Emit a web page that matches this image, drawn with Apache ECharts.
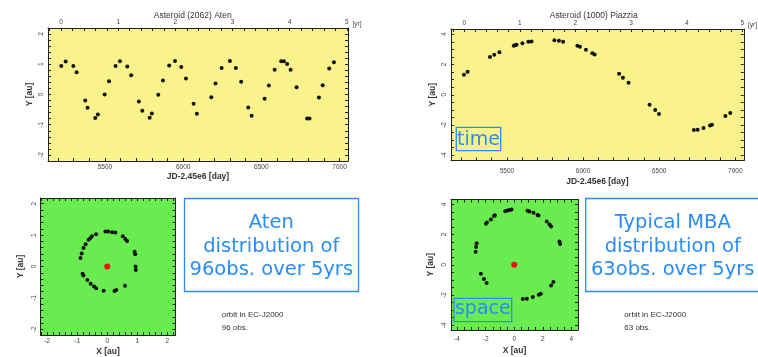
<!DOCTYPE html>
<html>
<head>
<meta charset="utf-8">
<script src="https://cdn.jsdelivr.net/npm/echarts@6/dist/echarts.min.js"></script>
<style>
html,body{margin:0;padding:0;background:#fff;}
#c{width:758px;height:357px;}
</style>
</head>
<body>
<div id="c"></div>
<script>
// ---------- data ----------
// Aten: Y [au] vs time (JD-2.45e6)
const atenJD = [5221,5249,5298,5319,5374,5389,5438,5455,5498,5526,5568,5596,5643,5668,5717,5739,5786,5800,5841,5871,5911,5948,5988,6018,6067,6088,6180,6207,6246,6299,6337,6371,6416,6438,6521,6548,6585,6627,6644,6665,6687,6725,6793,6808,6868,6892,6934,6964];
const atenTY  = [0.94,1.09,0.94,0.74,-0.20,-0.44,-0.78,-0.66,0.00,0.44,0.94,1.10,0.93,0.64,-0.23,-0.54,-0.77,-0.63,-0.01,0.46,0.96,1.11,0.91,0.53,-0.31,-0.64,-0.09,0.36,0.88,1.11,0.88,0.42,-0.43,-0.70,-0.14,0.30,0.82,1.10,1.10,1.01,0.82,0.24,-0.79,-0.79,-0.10,0.31,0.86,1.07];
// Piazzia: Y [au] vs time
const piazJD = [5218,5242,5389,5417,5451,5545,5553,5564,5602,5641,5662,5812,5842,5869,5963,5980,6019,6061,6076,6237,6262,6299,6437,6474,6499,6728,6753,6791,6834,6847,6935,6967];
const piazTY  = [1.32,1.52,2.49,2.64,2.82,3.24,3.28,3.30,3.41,3.50,3.52,3.61,3.57,3.50,3.24,3.17,2.97,2.75,2.67,1.39,1.12,0.79,-0.66,-1.01,-1.28,-2.33,-2.31,-2.20,-2.03,-1.98,-1.41,-1.21];
// Aten: X/Y in EC-J2000 [au]
const atenX = [-0.06,0.03,0.16,0.27,0.52,0.60,0.66,0.91,0.93,0.94,0.95,0.59,0.30,0.24,-0.12,-0.37,-0.44,-0.55,-0.66,-0.79,-0.82,-0.89,-0.85,-0.79,-0.72,-0.62,-0.57,-0.51,-0.37];
const atenY = [1.11,1.11,1.09,1.08,0.96,0.875,0.81,0.47,0.39,0.00,-0.11,-0.61,-0.75,-0.78,-0.77,-0.69,-0.64,-0.55,-0.43,-0.29,-0.23,0.27,0.41,0.59,0.71,0.85,0.90,0.96,1.03];
// Typical MBA (Piazzia): X/Y in EC-J2000 [au]
const mbaX = [-0.63,-0.47,-0.33,-0.19,0.93,1.07,1.35,1.63,1.70,2.28,2.47,2.58,3.16,3.21,2.74,2.58,1.86,1.72,1.30,0.88,0.60,-1.93,-2.12,-2.33,-2.70,-2.67,-2.63,-1.98,-1.91,-1.63,-1.42,-1.35];
const mbaY = [3.55,3.59,3.63,3.66,3.57,3.52,3.44,3.30,3.26,2.86,2.67,2.53,1.54,1.37,-1.15,-1.37,-1.92,-1.98,-2.14,-2.25,-2.27,-1.21,-0.95,-0.59,0.86,1.17,1.43,2.71,2.80,3.00,3.22,3.28];
const sunXY = [[0, 0]];
// tick labels
const jdLabels = [5500, 6000, 6500, 7000];
const yearJD = [5220, 5585, 5950, 6316, 6681, 7046];
const yearLabels = ['0', '1', '2', '3', '4', '5'];
const atenTimeYLabels = [-2, -1, 0, 1, 2];
const piazTimeYLabels = [-4, -2, 0, 2, 4];
const atenXYLabels = [-2, -1, 0, 1, 2];
const mbaXYLabels = [-4, -2, 0, 2, 4];

// ---------- helpers ----------
function zip(a, b) { return a.map((v, i) => [v, b[i]]); }
function steps(a, b, s) { const r = []; for (let v = a; v <= b + 1e-9; v += s) r.push(Math.round(v * 1000) / 1000); return r; }
const FONT = 'Liberation Sans';
const INK = '#222';
const plain = v => String(v);
function axis(gi, pos, min, max, ticks, labels, lab, extra) {
  return Object.assign({
    type: 'value', gridIndex: gi, position: pos, min: min, max: max, scale: true,
    axisLine: { show: true, onZero: false, lineStyle: { color: INK, width: 1 } },
    axisTick: { show: true, inside: true, length: 3, customValues: ticks, lineStyle: { color: INK, width: 1 } },
    axisLabel: Object.assign({ show: !!labels, customValues: labels || [], formatter: plain, fontFamily: FONT, fontSize: 6.5, color: '#444', margin: 3 }, lab || {}),
    splitLine: { show: false }, minorTick: { show: false }
  }, extra || {});
}
const nameStyle = { fontFamily: FONT, fontWeight: 'bold', fontSize: 8.5, color: '#333' };

const jdMinL = 5136, jdMaxL = 7054, jdMinR = 5133, jdMaxR = 7056;
const yearTicksL = steps(5220 - 73.05, 7054, 73.05).filter(v => v >= jdMinL);
const yearTicksR = steps(5220 - 73.05, 7056, 73.05).filter(v => v >= jdMinR);
const yearFmt = v => { const i = yearJD.indexOf(v); return i < 0 ? '' : yearLabels[i]; };

const xAxes = [
  axis(0, 'bottom', jdMinL, jdMaxL, steps(5200, 7000, 100), jdLabels, { margin: 3 },
    { name: 'JD-2.45e6 [day]', nameLocation: 'middle', nameGap: 10, nameTextStyle: nameStyle }),
  axis(0, 'top', jdMinL, jdMaxL, yearTicksL, yearJD, { formatter: yearFmt, margin: 2 },
    { name: '[yr]', nameLocation: 'end', nameGap: 3, nameTextStyle: { fontFamily: FONT, fontSize: 6.5, color: '#444', verticalAlign: 'bottom' } }),
  axis(1, 'bottom', jdMinR, jdMaxR, steps(5200, 7000, 100), jdLabels, { margin: 7 },
    { name: 'JD-2.45e6 [day]', nameLocation: 'middle', nameGap: 17, nameTextStyle: nameStyle }),
  axis(1, 'top', jdMinR, jdMaxR, yearTicksR, yearJD, { formatter: yearFmt, margin: 2 },
    { name: '[yr]', nameLocation: 'end', nameGap: 3, nameTextStyle: { fontFamily: FONT, fontSize: 6.5, color: '#444', verticalAlign: 'bottom' } }),
  axis(2, 'bottom', -2.22, 2.27, steps(-2.2, 2.2, 0.2), atenXYLabels, { margin: 3 },
    { name: 'X [au]', nameLocation: 'middle', nameGap: 12, nameTextStyle: nameStyle }),
  axis(2, 'top', -2.22, 2.27, steps(-2.2, 2.2, 0.2), null),
  axis(3, 'bottom', -4.42, 4.46, steps(-4, 4, 0.5), mbaXYLabels, { margin: 6 },
    { name: 'X [au]', nameLocation: 'middle', nameGap: 16, nameTextStyle: nameStyle }),
  axis(3, 'top', -4.42, 4.46, steps(-4, 4, 0.5), null)
];
const yLab = { rotate: 90, margin: 3 };
const yAxes = [
  axis(0, 'left', -2.2, 2.2, steps(-2.2, 2.2, 0.2), atenTimeYLabels, yLab,
    { name: 'Y [au]', nameLocation: 'middle', nameRotate: 90, nameGap: 14, nameTextStyle: nameStyle }),
  axis(0, 'right', -2.2, 2.2, steps(-2.2, 2.2, 0.2), null),
  axis(1, 'left', -4.35, 4.35, steps(-4, 4, 0.5), piazTimeYLabels, yLab,
    { name: 'Y [au]', nameLocation: 'middle', nameRotate: 90, nameGap: 14, nameTextStyle: nameStyle }),
  axis(1, 'right', -4.35, 4.35, steps(-4, 4, 0.5), null),
  axis(2, 'left', -2.18, 2.18, steps(-2.0, 2.0, 0.2), atenXYLabels, yLab,
    { name: 'Y [au]', nameLocation: 'middle', nameRotate: 90, nameGap: 15, nameTextStyle: nameStyle }),
  axis(2, 'right', -2.18, 2.18, steps(-2.0, 2.0, 0.2), null),
  axis(3, 'left', -4.32, 4.32, steps(-4, 4, 0.5), mbaXYLabels, yLab,
    { name: 'Y [au]', nameLocation: 'middle', nameRotate: 90, nameGap: 16, nameTextStyle: nameStyle }),
  axis(3, 'right', -4.32, 4.32, steps(-4, 4, 0.5), null)
];

const YELLOW = '#faf38c', GREEN = '#68ec50', BLUE = '#2a8cf5';
function dots(xi, yi, data, size, color) {
  return { type: 'scatter', xAxisIndex: xi, yAxisIndex: yi, data: data, symbolSize: size,
    itemStyle: { color: color, opacity: 1 }, silent: true, animation: false };
}
function txt(x, y, text, size, opts) {
  return { type: 'text', x: x, y: y, silent: true, z: 100,
    style: Object.assign({ text: text, fontFamily: FONT, fontSize: size, fill: '#333', align: 'center', verticalAlign: 'middle' }, opts || {}) };
}
function box(x, y, w, h) {
  return { type: 'rect', silent: true, z: 99, shape: { x: x, y: y, width: w, height: h },
    style: { fill: 'rgba(0,0,0,0)', stroke: BLUE, lineWidth: 1.3 } };
}
const big = { fontFamily: 'DejaVu Sans', fill: BLUE, lineHeight: 23.3 };

const option = {
  backgroundColor: '#fff',
  animation: false,
  grid: [
    { left: 48, top: 28, width: 300, height: 133, show: true, backgroundColor: YELLOW, borderWidth: 0 },
    { left: 451, top: 29, width: 300, height: 131.5, show: true, backgroundColor: YELLOW, borderWidth: 0 },
    { left: 40.5, top: 198, width: 135, height: 138, show: true, backgroundColor: GREEN, borderWidth: 0 },
    { left: 451, top: 199.5, width: 127, height: 130.5, show: true, backgroundColor: GREEN, borderWidth: 0 }
  ],
  xAxis: xAxes,
  yAxis: yAxes,
  series: [
    dots(0, 0, zip(atenJD, atenTY), 4, '#111'),
    dots(2, 2, zip(piazJD, piazTY), 4, '#111'),
    dots(4, 4, zip(atenX, atenY), 4, '#111'),
    dots(4, 4, sunXY, 6, '#f01010'),
    dots(6, 6, zip(mbaX, mbaY), 4, '#111'),
    dots(6, 6, sunXY, 6, '#f01010')
  ],
  graphic: [
    txt(192.7, 16, 'Asteroid (2062) Aten', 8.5),
    txt(593.7, 15.7, 'Asteroid (1000) Piazzia', 8.5),
    box(184.5, 198.5, 174, 93),
    txt(271.3, 246.7, 'Aten\ndistribution of\n96obs. over 5yrs', 19.5, big),
    box(585.7, 198.5, 174, 93),
    txt(672.7, 246.7, 'Typical MBA\ndistribution of\n63obs. over 5yrs', 19.5, big),
    box(456.3, 127.3, 44.4, 23.4),
    txt(478.5, 140.5, 'time', 19, { fontFamily: 'DejaVu Sans', fill: BLUE }),
    box(454, 298.3, 57.7, 23.4),
    txt(482.8, 309.5, 'space', 19, { fontFamily: 'DejaVu Sans', fill: BLUE }),
    txt(221.7, 315, 'orbit in EC-J2000', 8, { align: 'left' }),
    txt(221.7, 327.7, '96 obs.', 8, { align: 'left' }),
    txt(624.3, 315, 'orbit in EC-J2000', 8, { align: 'left' }),
    txt(624.3, 327.7, '63 obs.', 8, { align: 'left' })
  ]
};
const chart = echarts.init(document.getElementById('c'), null, { renderer: 'canvas' });
chart.setOption(option);
</script>
</body>
</html>
